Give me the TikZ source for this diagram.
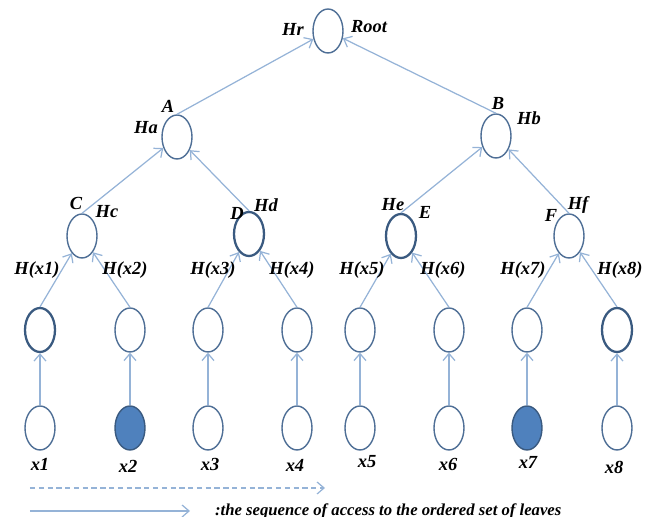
\documentclass[tikz,border=0pt]{standalone}
\usepackage{fontspec}
\setmainfont{Liberation Serif}
\usetikzlibrary{arrows.meta,shapes.geometric}
\definecolor{Edge}{HTML}{95B3D7}
\definecolor{Rim}{HTML}{4F6F96}
\definecolor{RimDark}{HTML}{3A5A80}
\definecolor{LeafBlue}{HTML}{4F81BD}
\tikzset{hash/.style={ellipse,draw=Rim,line width=.8pt,fill=white,minimum width=.6cm,minimum height=.88cm,inner sep=0pt},bold/.style={draw=RimDark,line width=1.3pt},chosen/.style={fill=LeafBlue,draw=RimDark},link/.style={-{Straight Barb[length=1.4mm,width=2.4mm]},draw=Edge,line width=.7pt},lbl/.style={font=\fontsize{10.5}{12}\selectfont\bfseries\itshape,inner sep=1pt}}

\begin{document}
\begin{tikzpicture}[x=.02cm,y=-.02cm]
  \useasboundingbox (0,0) rectangle (654,517);
  % inner nodes of the tree
  \node[hash](root) at (328,31){};
  \node[hash](A) at (177,137){}; \node[hash](B) at (496,136){};
  \node[hash](C) at (82,236){}; \node[hash,bold](D) at (249,234){};
  \node[hash,bold](E) at (401,236){}; \node[hash](F) at (569,236){};
  % leaf hashes and leaves
  \foreach \i/\x/\hs/\ls in {1/40/bold/hash,2/130/hash/chosen,3/208/hash/hash,4/297/hash/hash,5/360/hash/hash,6/449/hash/hash,7/527/hash/chosen,8/617/bold/hash}{
    \node[hash,\hs](h\i) at (\x,330){};
    \node[hash,\ls](x\i) at (\x,428){};
    \draw[link](x\i)--(h\i);
  }
  \draw[link](h1.north)--(C); \draw[link](h2.north)--(C);
  \draw[link](h3.north)--(D); \draw[link](h4.north)--(D);
  \draw[link](h5.north)--(E); \draw[link](h6.north)--(E);
  \draw[link](h7.north)--(F); \draw[link](h8.north)--(F);
  \draw[link](C.north)--(A); \draw[link](D.north)--(A);
  \draw[link](E.north)--(B); \draw[link](F.north)--(B);
  \draw[link](A.north)--(root); \draw[link](B.north)--(root);
  % labels
  \node[lbl](tHr) at (293,29){Hr}; \node[lbl](tRoot) at (369,27){Root};
  \node[lbl](tA) at (168,106){A}; \node[lbl](tHa) at (146,128){Ha};
  \node[lbl](tB) at (498,103){B}; \node[lbl](tHb) at (529,118){Hb};
  \node[lbl](tC) at (76,203){C}; \node[lbl](tHc) at (107,212){Hc};
  \node[lbl](tD) at (237,213){D}; \node[lbl](tHd) at (266,205){Hd};
  \node[lbl](tHe) at (393,205){He}; \node[lbl](tE) at (425,212){E};
  \node[lbl](tF) at (551,215){F}; \node[lbl](tHf) at (578,205){Hf};
  \foreach \i/\x in {1/37,2/125,3/213,4/292,5/362,6/443,7/523,8/620}
    \node[lbl](tH\i) at (\x,270){H(x\i)};
  \foreach \i/\x/\y in {1/40/464,2/128/466,3/210/464,4/295/465,5/367/462,6/448/464,7/528/462,8/614/467}
    \node[lbl](tx\i) at (\x,\y){x\i};
  % legend
  \coordinate(s1) at (30,488); \coordinate(e1) at (325,488);
  \coordinate(s2) at (30,511); \coordinate(e2) at (190,511);
  \draw[link,dash pattern=on 3pt off 2pt](s1)--(e1);
  \draw[link](s2)--(e2);
  \node[lbl,anchor=west,font=\fontsize{9.5}{11}\selectfont\bfseries\itshape](note) at (213,511){:the sequence of access to the ordered set of leaves};
\end{tikzpicture}
\end{document}
